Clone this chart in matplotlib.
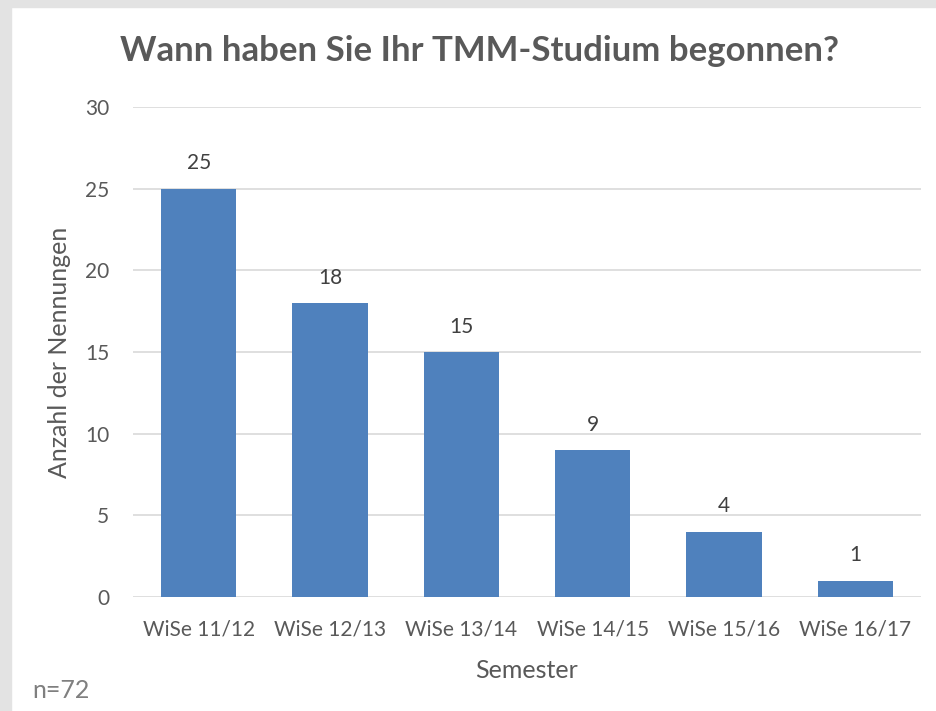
import matplotlib
matplotlib.use("Agg")
import matplotlib.pyplot as plt
from matplotlib.patches import Rectangle

categories = ["WiSe 11/12", "WiSe 12/13", "WiSe 13/14", "WiSe 14/15", "WiSe 15/16", "WiSe 16/17"]
values = [25, 18, 15, 9, 4, 1]
yticks = [0, 5, 10, 15, 20, 25, 30]

plt.rcParams['font.family'] = ['Lato', 'DejaVu Sans']
text_color = "#595959"
W, H = 936, 711
fig = plt.figure(figsize=(W/100, H/100), dpi=100)
fig.patch.set_facecolor("white")
# gray frame on left and top
fig.patches.append(Rectangle((0, 0), 11/W, 1, transform=fig.transFigure, color="#e3e3e3", zorder=0))
fig.patches.append(Rectangle((0, 1-7/H), 1, 7/H, transform=fig.transFigure, color="#e3e3e3", zorder=0))

ax = fig.add_axes([133/W, 1-597/H, (921-133)/W, (597-107)/H])
x = range(len(categories))
bars = ax.bar(x, values, width=75/131, color="#4f81bd", zorder=3)
ax.set_xlim(-0.5, len(categories)-0.5)
ax.set_ylim(0, 30)
ax.set_yticks(yticks)
ax.set_xticks(list(x))
ax.set_xticklabels(categories)
for s in ax.spines.values():
    s.set_visible(False)
ax.grid(axis="y", color="#d9d9d9", linewidth=1.2, zorder=0)
ax.set_axisbelow(True)
ax.tick_params(axis="both", length=0, labelsize=15, colors=text_color)
ax.tick_params(axis="y", pad=17)
ax.tick_params(axis="x", pad=16)
for b, v in zip(bars, values):
    ax.annotate(str(v), (b.get_x()+b.get_width()/2, v), xytext=(0, 11), textcoords="offset points",
                ha="center", va="bottom", fontsize=15, color="#404040")
ax.set_ylabel("Anzahl der Nennungen", fontsize=18, color=text_color, labelpad=10)
ax.set_xlabel("Semester", fontsize=18, color=text_color, labelpad=14)
fig.text(480/W, 1-51/H, "Wann haben Sie Ihr TMM-Studium begonnen?", ha="center", va="center",
         fontsize=25, fontweight="bold", color=text_color)
fig.text(32/W, 1-690/H, "n=72", ha="left", va="center", fontsize=18, color="#7f7f7f")
fig.savefig("out.png", dpi=100, facecolor="white")
